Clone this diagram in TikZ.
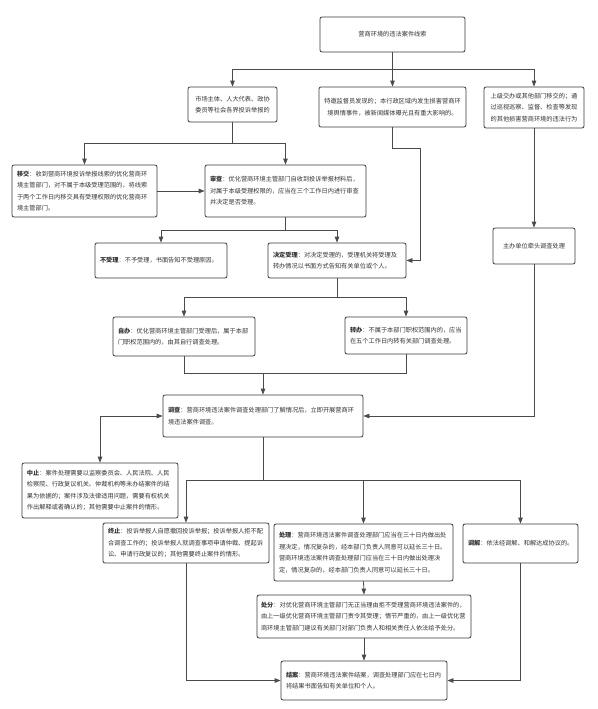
\documentclass[tikz,border=0pt]{standalone}
\usepackage{fontspec}
\setmainfont{Noto Sans CJK SC}
\usetikzlibrary{arrows.meta}
\definecolor{edge}{HTML}{3A3A3A}
\definecolor{conn}{HTML}{4A4A4A}
\definecolor{txt}{HTML}{333333}
\tikzset{
  box/.style={draw=edge, line width=0.8pt, rounded corners=2pt, fill=white,
    text=txt, font=\fontsize{6.2pt}{11.5pt}\selectfont, inner xsep=5pt, inner ysep=2pt},
  lbox/.style={box, align=left, text width=#1},
  cbox/.style={box, align=center},
  arr/.style={draw=conn, line width=0.8pt, -{Triangle[length=6pt,width=4.5pt]}},
  arr2/.style={draw=conn, line width=0.8pt, {Triangle[length=6pt,width=4.5pt]}-{Triangle[length=6pt,width=4.5pt]}},
  ln/.style={draw=conn, line width=0.8pt}
}
\begin{document}
\begin{tikzpicture}[x=1pt,y=-1pt]
\useasboundingbox (0,0) rectangle (597,709);
\fill[white] (0,0) rectangle (597,709);

% top
\node[cbox, minimum width=145pt, minimum height=35pt] (top) at (392.5,34.5) {营商环境的违法案件线索};
\node[cbox, minimum width=89pt, minimum height=35pt] (A) at (232.5,104.5) {市场主体、人大代表、政协\\委员等社会各界投诉举报的};
\node[cbox, minimum width=147pt, minimum height=40pt] (B) at (392.5,107) {特邀监督员发现的；本行政区域内发生损害营商环\\境舆情事件，被新闻媒体曝光且有重大影响的。};
\node[cbox, minimum width=100pt, minimum height=41pt, inner xsep=2pt] (C) at (534,107.5) {上级交办或其他部门移交的；通\\过巡视巡察、监督、检查等发现\\的其他损害营商环境的违法行为};

\node[lbox=135pt, minimum height=52pt] (yj) at (84.5,191) {\textbf{移交}：收到营商环境投诉举报线索的优化营商环\\境主管部门，对不属于本级受理范围的，将线索\\于两个工作日内移交具有受理权限的优化营商环\\境主管部门。};
\node[lbox=151pt, minimum height=52pt] (sc) at (285.5,191) {\textbf{审查}：优化营商环境主管部门自收到投诉举报材料后，\\对属于本级受理权限的，应当在三个工作日内进行审查\\并决定是否受理。};

\node[cbox, minimum width=82pt, minimum height=36pt] (zb) at (534,246) {主办单位牵头调查处理};

\node[lbox=122pt, minimum height=35pt] (bsl) at (161,260.5) {\textbf{不受理}：不予受理，书面告知不受理原因。};
\node[lbox=128pt, minimum height=35pt] (jd) at (337,260.5) {\textbf{决定受理}：对决定受理的，受理机关将受理及\\转办情况以书面方式告知有关单位或个人。};

\node[lbox=132pt, minimum height=39pt] (zib) at (184,336.5) {\textbf{自办}：优化营商环境主管部门受理后，属于本部\\门职权范围内的，由其自行调查处理。};
\node[lbox=112pt, minimum height=37pt] (zhb) at (406,335.5) {\textbf{转办}：不属于本部门职权范围内的，应当\\在五个工作日内转有关部门调查处理。};

\node[lbox=190pt, minimum height=42pt] (dc) at (263,416) {\textbf{调查}：营商环境违法案件调查处理部门了解情况后，立即开展营商环\\境违法案件调查。};

\node[lbox=146pt, minimum height=55pt] (zz) at (100,490.5) {\textbf{中止}：案件处理需要以监察委员会、人民法院、人民\\检察院、行政复议机关、仲裁机构等未办结案件的结\\果为依据的；案件涉及法律适用问题，需要有权机关\\作出解释或者确认的；其他需要中止案件的情形。};

\node[lbox=156pt, minimum height=40pt] (zhz) at (186,543) {\textbf{终止}：投诉举报人自愿撤回投诉举报；投诉举报人拒不配\\合调查工作的；投诉举报人就调查事项申请仲裁、提起诉\\讼、申请行政复议的；其他需要终止案件的情形。};
\node[lbox=169pt, minimum height=57pt] (cl) at (363.5,552.5) {\textbf{处理}：营商环境违法案件调查处理部门应当在三十日内做出处\\理决定，情况复杂的，经本部门负责人同意可以延长三十日。\\营商环境违法案件调查处理部门应当在三十日内做出处理决\\定，情况复杂的，经本部门负责人同意可以延长三十日。};
\node[lbox=105pt, minimum height=39pt] (tj) at (520.5,543.5) {\textbf{调解}：依法经调解、和解达成协议的。};

\node[lbox=206pt, minimum height=43pt, inner xsep=4pt] (cf) at (364,616.5) {\textbf{处分}：对优化营商环境主管部门无正当理由拒不受理营商环境违法案件的，\\由上一级优化营商环境主管部门责令其受理；情节严重的，由上一级优化营\\商环境主管部门建议有关部门对部门负责人和相关责任人依法给予处分。};
\node[lbox=156pt, minimum height=39pt] (ja) at (364,680.5) {\textbf{结案}：营商环境违法案件结案，调查处理部门应在七日内\\将结果书面告知有关单位和个人。};

% junction coordinates
\coordinate (busA) at (232.5,69);
\coordinate (busC) at (534,69);
\coordinate (jA) at (232.5,143);
\coordinate (bB1) at (420,148);
\coordinate (jS) at (285.5,230);
\coordinate (jJ) at (337,297);
\coordinate (m1) at (263,373);
\coordinate (jD) at (263,480);

% connectors
\draw[arr] (top.south) |- (busA) -- (A.north);
\draw[arr] (top.south) -- (B.north);
\draw[arr] (top.south) |- (busC) -- (C.north);

\draw[ln] (A.south) -- (jA);
\draw[arr] (jA) -| (yj.north);
\draw[arr] (jA) -| (sc.north);
\draw[arr] (yj) -- (sc);

\draw[arr] (B.south) |- (bB1) |- (jd.east);
\draw[arr] (C.south) -- (zb.north);

\draw[ln] (sc.south) -- (jS);
\draw[arr] (jS) -| (bsl.north);
\draw[arr] (jS) -| (jd.north);

\draw[ln] (jd.south) -- (jJ);
\draw[arr] (jJ) -| (zib.north);
\draw[arr] (jJ) -| (zhb.north);

\draw[ln] (zib.south) |- (m1);
\draw[ln] (zhb.south) |- (m1);
\draw[arr] (m1) -- (dc.north);

\draw[arr2] (zz.north) |- (dc.west);
\draw[arr] (zb.south) |- (dc.east);

\draw[ln] (dc.south) -- (jD);
\draw[arr] (jD) -| (zhz.north);
\draw[arr] (jD) -| (cl.north);
\draw[arr] (jD) -| (tj.north);

\draw[arr] (cl.south) -- (cf.north);
\draw[arr] (cf.south) -- (ja.north);
\draw[arr] (zhz.south) |- (ja.west);
\draw[arr] (tj.south) |- (ja.east);
\end{tikzpicture}
\end{document}
